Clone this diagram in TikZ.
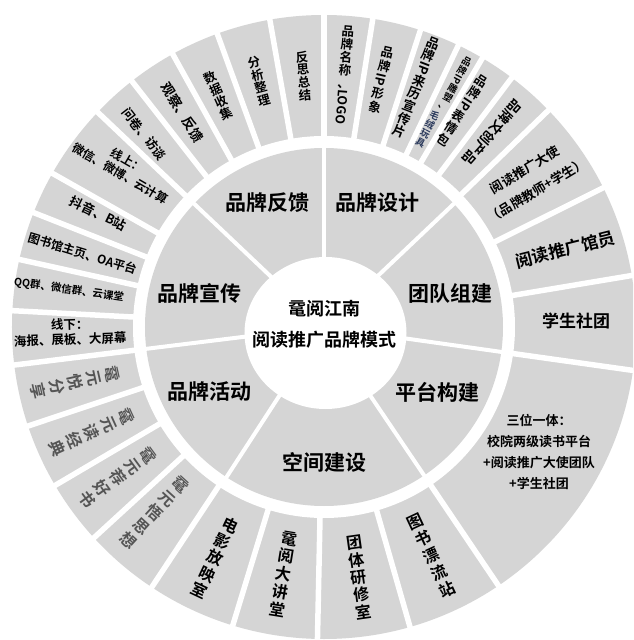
\documentclass[tikz,border=0pt]{standalone}
\usepackage{fontspec}
\usepackage{graphicx}
\newfontfamily\cjk{Noto Sans CJK SC}[BoldFont={Noto Sans CJK SC Bold}]
\definecolor{ring}{RGB}{213,213,213}
\definecolor{vgray}{RGB}{85,85,85}
\definecolor{slate}{RGB}{40,55,90}
\newcommand{\rl}[1]{\rotatebox[origin=c]{-90}{#1}}
\begin{document}
\begin{tikzpicture}[x=1pt,y=1pt,
  lab/.style={align=center, inner sep=0pt},
  fs/.style 2 args={font=\cjk\bfseries\fontsize{#1}{#2}\selectfont},
  mid/.style={lab, fs={21}{24}},
  gv/.style={text=vgray},
  middiv/.style={white, line width=4pt},
  outdiv/.style={white, line width=5.5pt}]
\useasboundingbox (-324,-313) rectangle (309,327);
\fill[white] (-324,-313) rectangle (309,327);
\clip (-324,-313) rectangle (309,327);
\coordinate (C) at (0,0);
% rings
\fill[ring] (C) circle (312);
\fill[white] (C) circle (191);
\fill[ring] (C) circle (179);
\fill[white] (1.5,-6) ellipse [x radius=81, y radius=76];
\foreach \a in {90,43.5,-8,-56,237,187,136.5}
  \draw[middiv] (\a:70) -- (\a:182);
\foreach \a in {90,81,72,64.5,59.5,53,44,26.5,9.5,-8,-56,-74,-91.2,-107,236.5,222.5,210.5,198.5,187,177,167.5,158.5,150.5,136.5,128,119,110,100}
  \draw[outdiv] (\a:188) -- (\a:320);
% centre
\node[lab,fs={18}{31}] (c0) at (1,3) {鼋阅江南\\阅读推广品牌模式};
% middle ring
\node[mid] (m1) at (-56,124) {品牌反馈};
\node[mid] (m2) at (54,124) {品牌设计};
\node[mid] (m3) at (-124,34) {品牌宣传};
\node[mid] (m4) at (126,34) {团队组建};
\node[mid] (m5) at (-114,-65) {品牌活动};
\node[mid] (m6) at (113,-65) {平台构建};
\node[mid] (m7) at (1,-135) {空间建设};
% brand design
\node[lab,fs={12.5}{13},rotate=-4.7] (o1) at (20.5,252) {品\\牌\\名\\称\\、\\\rl{LOGO}};
\node[lab,fs={12.5}{14},rotate=-13] (o2) at (57,247) {品\\牌\\\rl{IP}\\形\\象};
\node[lab,fs={13}{13.6},rotate=-21] (o3) at (92.5,239.5) {品\\牌\\\rl{IP}\\来\\历\\宣\\传\\片};
\node[lab,fs={9.5}{10},rotate=-28] (o4) at (131,243) {品\\牌\\\rl{IP}\\雕\\塑\\、};
\node[lab,fs={9.5}{10},rotate=-28,text=slate] (o4b) at (103.5,198) {毛\\绒\\玩\\具};
\node[lab,fs={12.5}{14},rotate=-33] (o5) at (138.5,216.5) {品\\牌\\\rl{IP}\\表\\情\\包};
\node[lab,fs={13.5}{14},rotate=-131.7] (o6) at (168.5,194.5) {品牌文创产品};
% team
\node[lab,fs={13}{24},rotate=31] (o7) at (207,147) {阅读推广大使\\（品牌教师+学生）};
\node[lab,fs={17}{20},rotate=14] (o8) at (241,77.5) {阅读推广馆员};
\node[lab,fs={17}{20}] (o9) at (252,6) {学生社团};
% platform
\node[lab,fs={13}{21}] (o10) at (215,-125) {三位一体：\\校院两级读书平台\\+阅读推广大使团队\\+学生社团};
% space
\node[lab,fs={16}{18.7},rotate=25] (o11) at (107,-229) {图\\书\\漂\\流\\站};
\node[lab,fs={16}{17.5},rotate=8] (o12) at (35,-250.5) {团\\体\\研\\修\\室};
\node[lab,fs={16}{18},rotate=-9.3] (o13) at (-40.5,-247) {鼋\\阅\\大\\讲\\堂};
\node[lab,fs={16}{18},rotate=-25.3] (o14) at (-109,-230.5) {电\\影\\放\\映\\室};
% activities
\node[lab,gv,fs={16}{19},rotate=-42.4] (o15) at (-169.5,-185.5) {鼋\\元\\悟\\思\\想};
\node[lab,gv,fs={16}{19},rotate=-53.9] (o16) at (-206.5,-150.5) {鼋\\元\\荐\\好\\书};
\node[lab,gv,fs={16}{19},rotate=-65.6] (o17) at (-232.5,-105.5) {鼋\\元\\读\\经\\典};
\node[lab,gv,fs={16}{19},rotate=-77.4] (o18) at (-249,-55.5) {鼋\\元\\悦\\分\\享};
% publicity
\node[lab,fs={12.5}{15},rotate=2] (o19) at (-254,-5) {线下：\\海报、展板、大屏幕};
\node[lab,fs={10.5}{12},rotate=-8] (o20) at (-255,37) {QQ群、微信群、云课堂};
\node[lab,fs={12}{14},rotate=-17] (o21) at (-241.5,73.5) {图书馆主页、OA平台};
\node[lab,fs={13}{15},rotate=-26] (o22) at (-225.5,113.5) {抖音、B站};
\node[lab,fs={12}{15},rotate=-30] (o23) at (-200,160) {线上：\\微信、微博、云计算};
% feedback
\node[lab,fs={12.5}{14},rotate=-52] (o24) at (-180,193) {问卷、访谈};
\node[lab,fs={13.5}{15},rotate=-58] (o25) at (-141.5,214.5) {观察、反馈};
\node[lab,fs={12.5}{13},rotate=24.5] (o26) at (-105.5,231.5) {数\\据\\收\\集};
\node[lab,fs={12.5}{13},rotate=14.8] (o27) at (-65,246) {分\\析\\整\\理};
\node[lab,fs={12.5}{12.7},rotate=4.7] (o28) at (-20.5,251) {反\\思\\总\\结};
\end{tikzpicture}
\end{document}
